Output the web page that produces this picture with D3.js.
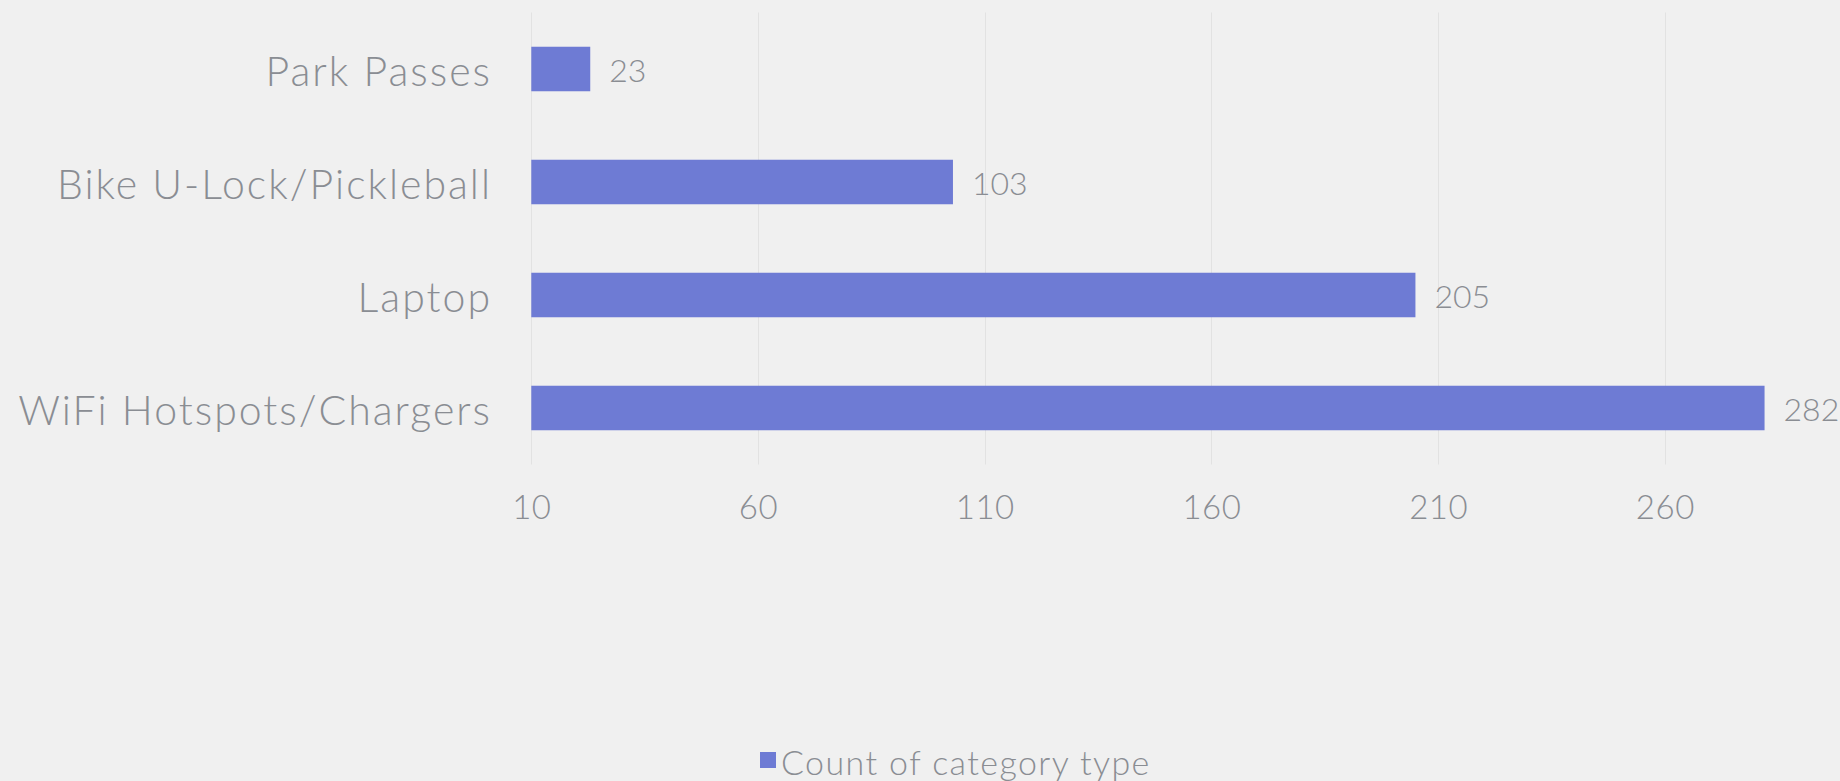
<!DOCTYPE html>
<html>
<head>
  <meta charset="UTF-8">
  <title>Count of category type</title>
  <script src="https://d3js.org/d3.v7.min.js"></script>
  <style>
    html, body { margin: 0; padding: 0; background: #f0f0f0; }
    body { font-family: Lato, "Open Sans", sans-serif; color: #8e9197; }
    .domain { display: none; }
    svg text { font-family: Lato, sans-serif; font-weight: 300; }
  </style>
</head>
<body>
  <div id="chart"></div>
  <script>
    const categories = ["Park Passes", "Bike U-Lock/Pickleball", "Laptop", "WiFi Hotspots/Chargers"];
    const counts = [23, 103, 205, 282];
    const xTicks = [10, 60, 110, 160, 210, 260];
    const seriesName = "Count of category type";

    const width = 1840;
    const height = 781;
    const barColor = "#6e7bd4";
    const textColor = "#8a8d93";

    const svg = d3.select("#chart")
      .append("svg")
      .attr("width", width)
      .attr("height", height);

    // axis runs 10..310, the right end falls off the canvas like the original
    const x = d3.scaleLinear()
      .domain([10, 310])
      .range([531.3, 1891.5]);

    const y = d3.scaleBand()
      .domain(categories)
      .range([12.5, 464.5])
      .paddingInner(0.606)
      .paddingOuter(0.303);

    // grid
    svg.append("g")
      .selectAll("line")
      .data(xTicks)
      .join("line")
      .attr("x1", d => Math.round(x(d)) + 0.5)
      .attr("x2", d => Math.round(x(d)) + 0.5)
      .attr("y1", 12.5)
      .attr("y2", 464.5)
      .attr("stroke", "#e2e2e2")
      .attr("stroke-width", 1);

    // x axis labels
    const xAxis = svg.append("g")
      .attr("transform", "translate(0, 480)")
      .call(d3.axisBottom(x).tickValues(xTicks).tickSize(0).tickPadding(0));
    xAxis.selectAll("text")
      .attr("dy", "0.71em")
      .attr("y", 16)
      .attr("fill", textColor)
      .style("font-size", "33px")
      .style("letter-spacing", "0.5px");

    // y axis labels
    const yAxis = svg.append("g")
      .attr("transform", "translate(492, 0)")
      .call(d3.axisLeft(y).tickSize(0).tickPadding(0));
    yAxis.selectAll("text")
      .attr("fill", textColor)
      .attr("dy", "0.42em")
      .style("font-size", "41px")
      .style("letter-spacing", "2px");

    // bars
    svg.selectAll(".bar")
      .data(categories)
      .join("rect")
      .attr("class", "bar")
      .attr("x", x(10))
      .attr("y", d => y(d))
      .attr("width", (d, i) => x(counts[i]) - x(10))
      .attr("height", y.bandwidth())
      .attr("fill", barColor);

    // value labels
    svg.selectAll(".val")
      .data(categories)
      .join("text")
      .attr("class", "val")
      .attr("x", (d, i) => x(counts[i]) + 19)
      .attr("y", d => y(d) + y.bandwidth() / 2)
      .attr("dy", "0.42em")
      .attr("fill", textColor)
      .style("font-size", "32px")
      .text((d, i) => counts[i]);

    // legend
    const legend = svg.append("g").attr("transform", "translate(760, 752)");
    legend.append("rect")
      .attr("width", 16)
      .attr("height", 16)
      .attr("fill", barColor);
    legend.append("text")
      .attr("x", 21)
      .attr("y", 23)
      .attr("fill", textColor)
      .style("font-size", "34px")
      .style("letter-spacing", "1.4px")
      .text(seriesName);
  </script>
</body>
</html>
